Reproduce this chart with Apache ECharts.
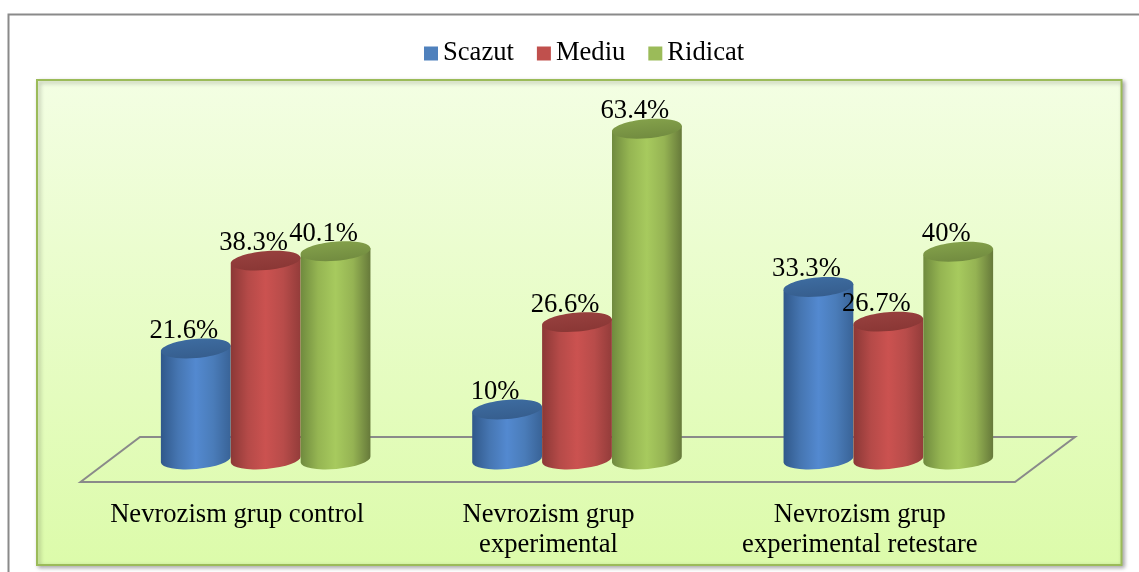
<!DOCTYPE html>
<html>
<head>
<meta charset="utf-8">
<style>
  html, body { margin: 0; padding: 0; background: #fff; }
  #chart { width: 1139px; height: 572px; }
</style>
<script src="https://cdn.jsdelivr.net/npm/echarts@6/dist/echarts.min.js"></script>
</head>
<body>
<div id="chart"></div>
<script>
const categories = [
  'Nevrozism grup control',
  'Nevrozism grup\nexperimental',
  'Nevrozism grup\nexperimental retestare',
];
const seriesNames = ['Scazut', 'Mediu', 'Ridicat'];
const scazut = [21.6, 10, 33.3];
const mediu = [38.3, 26.6, 26.7];
const ridicat = [40.1, 63.4, 40];

const seriesValues = [scazut, mediu, ridicat];
const legendColors = ['#4f81bd', '#c0504d', '#9bbb59'];
// left edge, shoulder, middle, shoulder, right edge of each cylinder
const bodyColors = [
  ['#30588a', '#4676b2', '#5389d0', '#4a7cb9', '#396397'],
  ['#8b3836', '#b54a48', '#cb5250', '#b84c4a', '#933c3a'],
  ['#6f8a3e', '#95b552', '#a7ca5e', '#95b353', '#66793a'],
];
const capColors = [
  ['#3d6b9f', '#365e8e'],
  ['#97403e', '#8a3735'],
  ['#83a04a', '#728c40'],
];

const font = '"Liberation Serif", "Times New Roman", serif';
const tilt = 5 * Math.PI / 180;
const radiusY = 9.5;

function hGradient(stops) {
  const at = [0, 0.25, 0.5, 0.75, 1];
  return new echarts.graphic.LinearGradient(0, 0, 1, 0,
    stops.map((color, i) => ({ offset: at[i], color: color })));
}

function renderCylinder(params, api) {
  const s = params.seriesIndex;
  const band = api.size([1, 0])[0];
  const rx = band * 0.1125;
  const top = api.coord([api.value(0), api.value(1)]);
  const base = api.coord([api.value(0), 0]);
  const cx = top[0] + (s - 1) * band * 0.2245;
  const topY = top[1];
  const baseY = base[1] - 2.5;
  const dx = rx * Math.cos(tilt);
  const dy = rx * Math.sin(tilt);
  const deg = -tilt * 180 / Math.PI;
  const body = 'M' + (cx - dx) + ' ' + (topY + dy)
    + 'L' + (cx + dx) + ' ' + (topY - dy)
    + 'L' + (cx + dx) + ' ' + (baseY - dy)
    + 'A' + rx + ' ' + radiusY + ' ' + deg + ' 0 1 ' + (cx - dx) + ' ' + (baseY + dy) + 'Z';
  return {
    type: 'group',
    children: [
      {
        type: 'path',
        shape: { pathData: body },
        style: { fill: hGradient(bodyColors[s]) },
      },
      {
        type: 'ellipse',
        x: cx,
        y: topY,
        rotation: tilt,
        shape: { cx: 0, cy: 0, rx: rx, ry: radiusY },
        style: {
          fill: new echarts.graphic.LinearGradient(0, 0, 0, 1, [
            { offset: 0, color: capColors[s][0] },
            { offset: 1, color: capColors[s][1] },
          ]),
        },
      },
      {
        type: 'text',
        z2: 10,
        x: cx - 12,
        y: topY - 4,
        style: {
          text: api.value(1) + '%',
          font: '26.6px ' + font,
          fill: '#000',
          align: 'center',
          verticalAlign: 'bottom',
        },
      },
    ],
  };
}

const chart = echarts.init(document.getElementById('chart'));
chart.setOption({
  animation: false,
  textStyle: { fontFamily: font },
  graphic: [
    {
      type: 'polyline',
      z: 0,
      shape: { points: [[8.5, 572], [8.5, 14.5], [1139, 14.5]] },
      style: { stroke: '#8a8a8a', lineWidth: 2, fill: 'none' },
    },
    {
      type: 'rect',
      z: 0,
      shape: { x: 37, y: 80, width: 1084.5, height: 485 },
      style: {
        fill: new echarts.graphic.LinearGradient(0, 0, 0, 1, [
          { offset: 0, color: '#f3fee3' },
          { offset: 1, color: '#dcfbaa' },
        ]),
        stroke: '#9bbb59',
        lineWidth: 2,
        shadowBlur: 4,
        shadowOffsetX: 2,
        shadowOffsetY: 2,
        shadowColor: 'rgba(0,0,0,0.3)',
      },
    },
    {
      type: 'polygon',
      z: 1,
      shape: { points: [[80.5, 482], [140, 437], [1075, 437], [1015, 482]] },
      style: { stroke: '#8a8a8a', lineWidth: 2, fill: 'none' },
    },
  ],
  legend: {
    left: 419,
    top: 35,
    icon: 'rect',
    itemWidth: 14,
    itemHeight: 14,
    itemGap: 23,
    data: seriesNames,
    textStyle: { fontFamily: font, fontSize: 26.6, color: '#000' },
  },
  grid: { left: 110, right: 95, top: 94, bottom: 110 },
  xAxis: {
    type: 'category',
    data: categories,
    axisLine: { show: false },
    axisTick: { show: false },
    axisLabel: {
      interval: 0,
      margin: 38,
      padding: [0, 57, 0, 0],
      lineHeight: 30,
      color: '#000',
      fontFamily: font,
      fontSize: 26.6,
      verticalAlign: 'top',
    },
  },
  yAxis: { type: 'value', min: 0, max: 70, show: false },
  series: seriesNames.map((name, i) => ({
    type: 'custom',
    name: name,
    itemStyle: { color: legendColors[i] },
    renderItem: renderCylinder,
    encode: { x: 0, y: 1 },
    data: seriesValues[i].map((v, j) => [j, v]),
  })),
});
</script>
</body>
</html>
